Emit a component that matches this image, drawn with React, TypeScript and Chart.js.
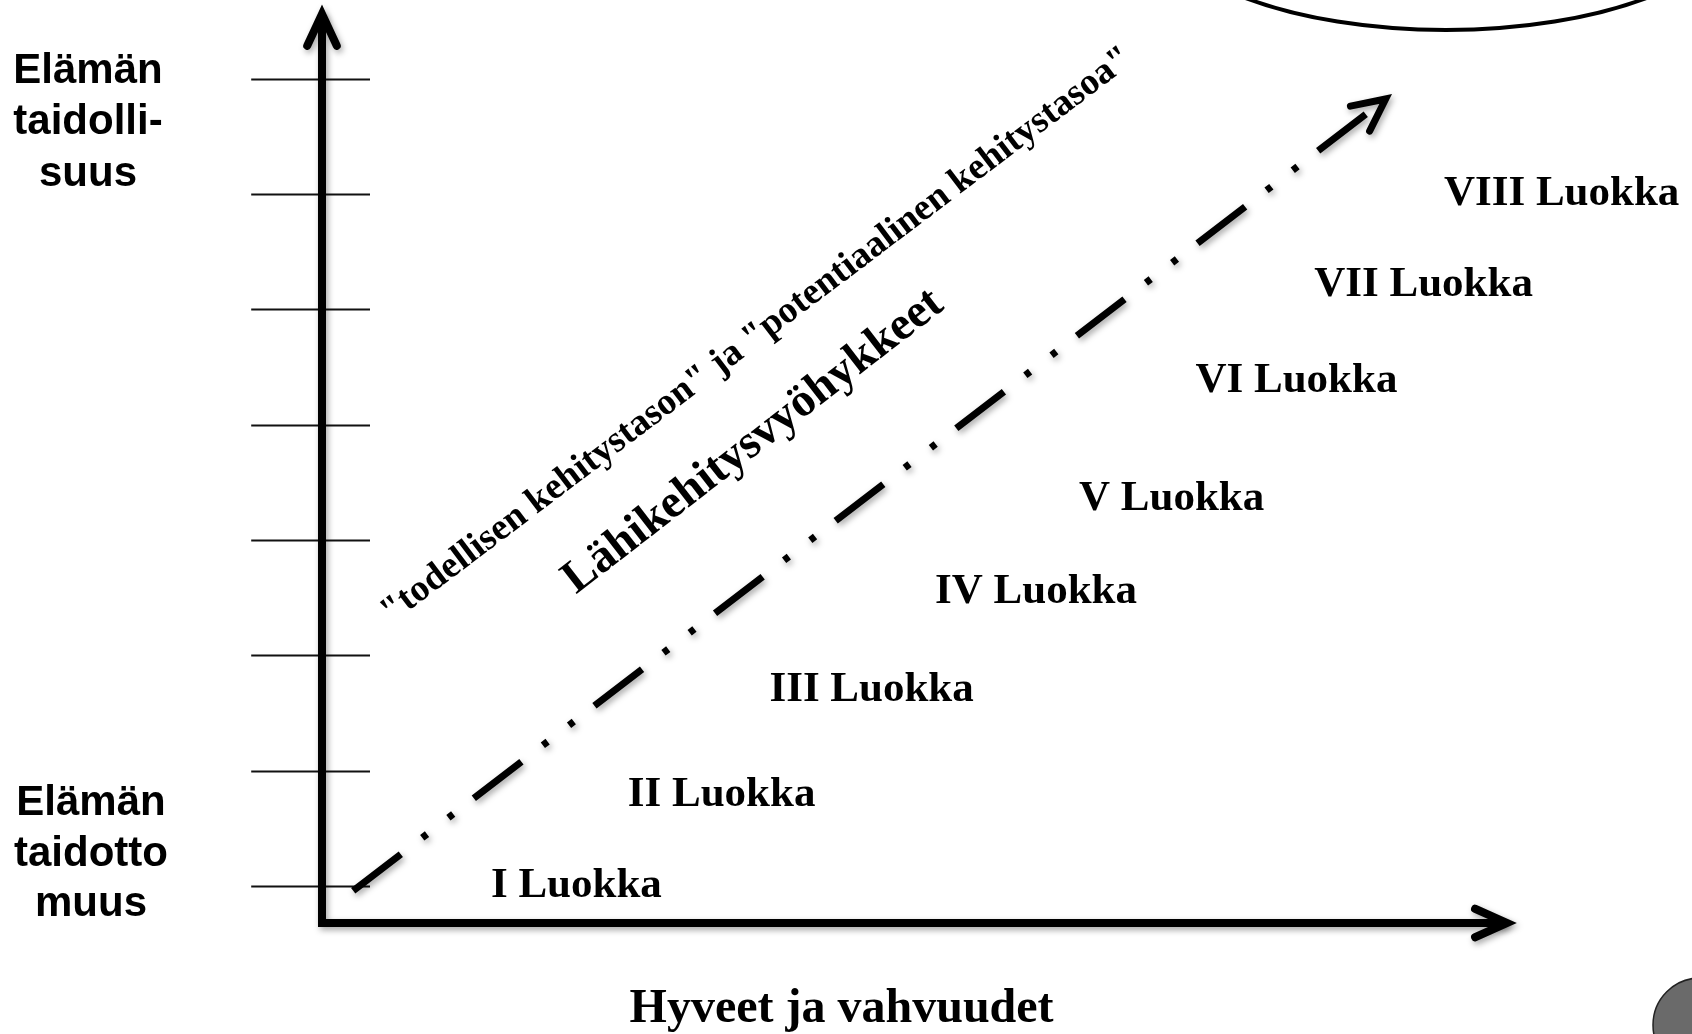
import React, { useEffect, useRef } from "react";
import { Chart, registerables } from "chart.js";

Chart.register(...registerables);

// ---- data ----
const levels = [0, 1, 2, 3, 4, 5, 6, 7];
const classLabels = [
  "I Luokka",
  "II Luokka",
  "III Luokka",
  "IV Luokka",
  "V Luokka",
  "VI Luokka",
  "VII Luokka",
  "VIII Luokka",
];
const classX = [2.12, 3.33, 4.58, 5.95, 7.08, 8.12, 9.18, 10.33];
const classY = [0.003, 0.793, 1.703, 2.553, 3.353, 4.383, 5.213, 6.003];
const zoneLineX = [0.26, 8.864];
const zoneLineY = [-0.04, 6.824];
const axisX = [0, 0, 9.875];
const axisY = [7.56, -0.32, -0.32];
const topLabel = ["Elämän", "taidolli-", "suus"];
const bottomLabel = ["Elämän", "taidotto", "muus"];
const xTitle = "Hyveet ja vahvuudet";
const zoneTitle = "Lähikehitysvyöhykkeet";
const zoneSubtitle = '"todellisen kehitystason" ja "potentiaalinen kehitystasoa"';

const SERIF = '"Liberation Serif", "Times New Roman", serif';
const SANS = '"Liberation Sans", Arial, sans-serif';

function chevron(
  ctx: CanvasRenderingContext2D,
  tx: number,
  ty: number,
  fx: number,
  fy: number,
  len: number,
  halfDeg: number,
  width: number
) {
  const ang = Math.atan2(ty - fy, tx - fx);
  const back = ang + Math.PI;
  const h = (halfDeg * Math.PI) / 180;
  ctx.beginPath();
  ctx.moveTo(tx + len * Math.cos(back + h), ty + len * Math.sin(back + h));
  ctx.lineTo(tx, ty);
  ctx.lineTo(tx + len * Math.cos(back - h), ty + len * Math.sin(back - h));
  ctx.lineWidth = width;
  ctx.lineCap = "round";
  ctx.lineJoin = "miter";
  ctx.strokeStyle = "#000";
  ctx.stroke();
}

function setShadow(ctx: CanvasRenderingContext2D) {
  ctx.shadowColor = "rgba(0,0,0,0.35)";
  ctx.shadowBlur = 6;
  ctx.shadowOffsetX = 2;
  ctx.shadowOffsetY = 3;
}

const diagramPlugin = {
  id: "diagram",
  beforeDatasetsDraw(chart: any) {
    const { ctx, scales } = chart;
    const xs = scales.x;
    const ys = scales.y;
    ctx.save();
    ctx.strokeStyle = "#111";
    ctx.lineWidth = 2;
    levels.forEach((lv) => {
      const py = Math.round(ys.getPixelForValue(lv)) + 0.5;
      ctx.beginPath();
      ctx.moveTo(xs.getPixelForValue(-0.59), py);
      ctx.lineTo(xs.getPixelForValue(0.4), py);
      ctx.stroke();
    });
    ctx.restore();
  },
  beforeDatasetDraw(chart: any, args: any) {
    const ctx = chart.ctx;
    ctx.save();
    if (args.index < 2) setShadow(ctx);
  },
  afterDatasetDraw(chart: any) {
    chart.ctx.restore();
  },
  afterDatasetsDraw(chart: any) {
    const { ctx, scales } = chart;
    const xs = scales.x;
    const ys = scales.y;
    const px = (v: number) => xs.getPixelForValue(v);
    const py = (v: number) => ys.getPixelForValue(v);

    // arrowheads
    ctx.save();
    setShadow(ctx);
    chevron(ctx, px(axisX[0]), py(axisY[0]), px(axisX[1]), py(axisY[1]), 35, 25, 8);
    chevron(ctx, px(axisX[2]), py(axisY[2]), px(axisX[1]), py(axisY[1]), 35, 24, 8);
    chevron(ctx, px(zoneLineX[1]), py(zoneLineY[1]), px(zoneLineX[0]), py(zoneLineY[0]), 36, 26, 7);
    ctx.restore();

    // class labels
    ctx.save();
    ctx.fillStyle = "#000";
    ctx.font = `bold 43px ${SERIF}`;
    ctx.textAlign = "center";
    ctx.textBaseline = "middle";
    classLabels.forEach((t, i) => {
      ctx.fillText(t, px(classX[i]), py(classY[i]));
    });

    // rotated texts
    ctx.textBaseline = "alphabetic";
    ctx.save();
    ctx.translate(px(3.53) + 17, py(4.68) - 3);
    ctx.rotate((-37.1 * Math.PI) / 180);
    ctx.font = `bold 37.5px ${SERIF}`;
    ctx.fillText(zoneSubtitle, 0, 0);
    ctx.restore();

    ctx.save();
    ctx.translate(px(3.59) + 8, py(3.83) + 7);
    ctx.rotate((-37.8 * Math.PI) / 180);
    ctx.font = `bold 47px ${SERIF}`;
    ctx.fillText(zoneTitle, 0, 0);
    ctx.restore();

    // y-axis end labels
    ctx.font = `bold 42px ${SANS}`;
    const topY = py(7);
    topLabel.forEach((t, i) => ctx.fillText(t, 88, topY + 4 + i * 51.5));
    const botY = py(0);
    bottomLabel.forEach((t, i) => ctx.fillText(t, 91, botY - 71 + i * 50.5));

    // x-axis title
    ctx.font = `bold 48px ${SERIF}`;
    ctx.fillText(xTitle, px(4.33), 1022);

    // decorative ellipse (top right) and button (bottom right)
    ctx.beginPath();
    ctx.ellipse(1446, -90, 295, 120, 0, 0, Math.PI * 2);
    ctx.lineWidth = 4;
    ctx.strokeStyle = "#000";
    ctx.stroke();

    ctx.beginPath();
    ctx.arc(1700, 1025, 47, 0, Math.PI * 2);
    ctx.fillStyle = "#6a6a6a";
    ctx.fill();
    ctx.lineWidth = 1.5;
    ctx.strokeStyle = "#222";
    ctx.stroke();
    ctx.restore();
  },
};

export default function App() {
  const ref = useRef<HTMLCanvasElement | null>(null);

  useEffect(() => {
    if (!ref.current) return;
    const chart = new Chart(ref.current, {
      type: "line",
      data: {
        datasets: [
          {
            data: axisX.map((x, i) => ({ x, y: axisY[i] })),
            borderColor: "#000",
            borderWidth: 8,
            borderJoinStyle: "miter",
            borderCapStyle: "butt",
            pointRadius: 0,
            tension: 0,
            fill: false,
            clip: false,
          } as any,
          {
            data: zoneLineX.map((x, i) => ({ x, y: zoneLineY[i] })),
            borderColor: "#000",
            borderWidth: 7,
            borderCapStyle: "butt",
            borderDash: [60, 27, 6, 27, 6, 26],
            pointRadius: 0,
            tension: 0,
            fill: false,
            clip: false,
          } as any,
          {
            type: "scatter",
            data: classX.map((x, i) => ({ x, y: classY[i] })),
            pointRadius: 0,
            showLine: false,
            clip: false,
          } as any,
        ],
      },
      options: {
        animation: false,
        responsive: false,
        devicePixelRatio: 1,
        layout: { padding: { left: 322, right: 170, top: 6, bottom: 111 } },
        scales: {
          x: { type: "linear", min: 0, max: 10, display: false },
          y: { type: "linear", min: -0.32, max: 7.63, display: false },
        },
        plugins: {
          legend: { display: false },
          tooltip: { enabled: false },
        },
        events: [],
      },
      plugins: [diagramPlugin],
    });
    return () => chart.destroy();
  }, []);

  return (
    <div
      style={{
        position: "absolute",
        left: 0,
        top: 0,
        width: 1692,
        height: 1034,
        background: "#fff",
        overflow: "hidden",
      }}
    >
      <canvas ref={ref} width={1692} height={1034} style={{ display: "block" }} />
    </div>
  );
}
